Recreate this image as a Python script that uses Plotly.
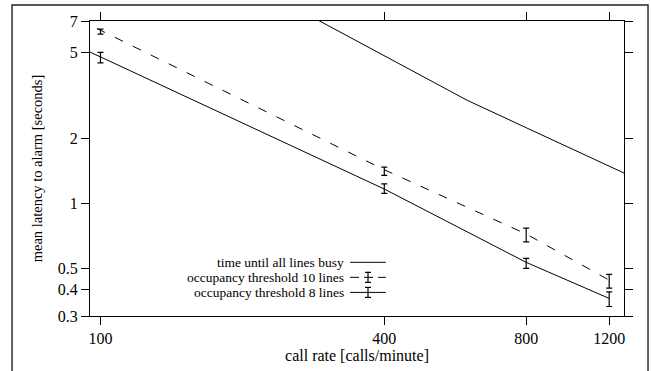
import math
import plotly.graph_objects as go

# ---- data ----
rate_busy = [200, 300, 400, 600, 800, 1000, 1200, 1300]
latency_busy = [10.9, 6.78, 4.82, 3.0, 2.24, 1.79, 1.49, 1.37]

rate_line = [90, 100, 400, 800, 1200]
latency_10_line = [7.1, 6.34, 1.43, 0.72, 0.44]
latency_8_line = [5.3, 4.77, 1.164, 0.532, 0.362]

rate_meas = [100, 400, 800, 1200]
mean_10 = [6.25, 1.41, 0.714, 0.436]
err_10 = [0.17, 0.062, 0.052, 0.032]
mean_8 = [4.745, 1.17, 0.527, 0.36]
err_8 = [0.265, 0.06, 0.028, 0.028]

x_ticks = [100, 400, 800, 1200]
y_ticks = [0.3, 0.4, 0.5, 1, 2, 5, 7]
y_tick_text = ["0.3", "0.4", "0.5", "1", "2", "5", "7"]

legend_labels = ["time until all lines busy",
                 "occupancy threshold 10 lines",
                 "occupancy threshold 8 lines"]

FONT = "Liberation Serif"
BLACK = "#000000"

fig = go.Figure()

fig.add_trace(go.Scatter(x=rate_busy, y=latency_busy, mode="lines",
                         line=dict(color=BLACK, width=1), showlegend=False))
fig.add_trace(go.Scatter(x=rate_line, y=latency_10_line, mode="lines",
                         line=dict(color=BLACK, width=1, dash="9px,11px"),
                         showlegend=False))
fig.add_trace(go.Scatter(x=rate_line, y=latency_8_line, mode="lines",
                         line=dict(color=BLACK, width=1), showlegend=False))
for m, e in ((mean_10, err_10), (mean_8, err_8)):
    fig.add_trace(go.Scatter(
        x=rate_meas, y=m, mode="markers",
        marker=dict(size=1, color="rgba(0,0,0,0)"),
        error_y=dict(type="data", array=e, visible=True, color=BLACK,
                     thickness=1.2, width=3),
        showlegend=False))

# ---- custom legend (text left of sample, right aligned) ----
leg_y = [0.182, 0.131, 0.080]
text_x = 0.473
s0, s1, sb = 0.487, 0.554, 0.5206
dashes = ["solid", "9px,5px", "solid"]
for i, (lab, yy) in enumerate(zip(legend_labels, leg_y)):
    fig.add_annotation(x=text_x, y=yy, xref="paper", yref="paper",
                       text=lab, showarrow=False, xanchor="right",
                       yanchor="middle", xshift=2, borderpad=0,
                       font=dict(family=FONT, size=13.5, color=BLACK))
    fig.add_shape(type="line", xref="paper", yref="paper", x0=s0, x1=s1,
                  y0=yy, y1=yy, line=dict(color=BLACK, width=1,
                                          dash=dashes[i]))
    if i > 0:
        h = 0.017
        c = 0.0056
        fig.add_shape(type="line", xref="paper", yref="paper", x0=sb, x1=sb,
                      y0=yy - h, y1=yy + h, line=dict(color=BLACK, width=1.2))
        for yc in (yy - h, yy + h):
            fig.add_shape(type="line", xref="paper", yref="paper",
                          x0=sb - c, x1=sb + c, y0=yc, y1=yc,
                          line=dict(color=BLACK, width=1.2))

# outer frame
fig.add_shape(type="rect", xref="paper", yref="paper",
              x0=-0.146, x1=1.045, y0=-0.35, y1=1.054,
              line=dict(color="#222222", width=1.4))

axis_common = dict(type="log", showline=True, linecolor=BLACK, linewidth=1,
                   mirror="ticks", ticks="outside", ticklen=8, tickwidth=1,
                   tickcolor=BLACK, showgrid=False, zeroline=False,
                   tickfont=dict(family=FONT, size=16, color=BLACK))

fig.update_layout(
    width=651, height=371,
    margin=dict(l=90, r=27, t=21, b=55),
    paper_bgcolor="white", plot_bgcolor="white",
    showlegend=False,
    xaxis=dict(axis_common, range=[math.log10(95), math.log10(1290)],
               tickvals=x_ticks, ticktext=[str(v) for v in x_ticks],
               title=dict(text="call rate [calls/minute]", standoff=2,
                          font=dict(family=FONT, size=16, color=BLACK))),
    yaxis=dict(axis_common, range=[math.log10(0.3), math.log10(7)],
               tickvals=y_ticks, ticktext=y_tick_text,
               title=dict(text="mean latency to alarm [seconds]", standoff=11,
                          font=dict(family=FONT, size=14.5, color=BLACK))),
)

fig.write_html("out.html", config={"displayModeBar": False},
               post_script="document.body.style.margin='0';"
                           "document.body.style.overflow='hidden';")
